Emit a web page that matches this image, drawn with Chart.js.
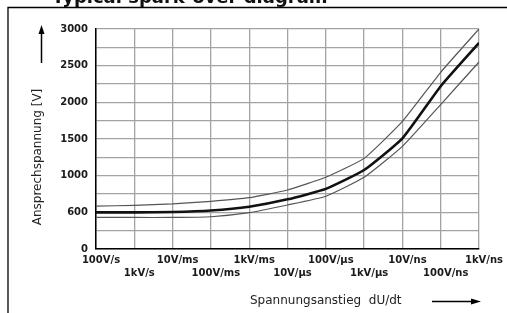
<!DOCTYPE html>
<html>
<head>
<meta charset="utf-8">
<script src="https://cdn.jsdelivr.net/npm/chart.js@4.4.1/dist/chart.umd.min.js"></script>
<style>
  html, body { margin: 0; padding: 0; background: #fff; }
  #wrap { width: 507px; height: 313px; position: relative; }
</style>
</head>
<body>
<div id="wrap"><canvas id="c" width="507" height="313"></canvas></div>
<script>
// ---- Data ----
const chartTitle = 'Typical spark-over diagram';
const yAxisTitle = 'Ansprechspannung [V]';
const xAxisTitle = 'Spannungsanstieg  dU/dt';

// x categories: decades of dU/dt (index 0..10)
const xCategories = ['100V/s', '1kV/s', '10V/ms', '100V/ms', '1kV/ms', '10V/\u00b5s',
                     '100V/\u00b5s', '1kV/\u00b5s', '10V/ns', '100V/ns', '1kV/ns'];

// y tick labels (as printed in the reference)
const yTickValues = [0, 500, 1000, 1500, 2000, 2500, 3000];
const yTickLabels = ['0', '600', '1000', '1500', '2000', '2500', '3000'];

// Spark-over voltage [V] at each category
const upperValues  = [585, 595, 615, 650, 700, 805, 978, 1236, 1740, 2410, 3000];
const typicalValues = [500, 500, 505, 525, 577, 677, 820, 1077, 1509, 2220, 2810];
const lowerValues  = [430, 430, 430, 440, 495, 600, 720, 978, 1400, 1970, 2550];

function toPoints(vals) { return vals.map((v, i) => ({ x: i, y: v })); }

const decor = {
  id: 'decor',
  beforeDraw(chart) {
    const ctx = chart.ctx;
    ctx.save();
    ctx.fillStyle = '#fff';
    ctx.fillRect(0, 0, chart.width, chart.height);
    ctx.restore();
  },
  afterDraw(chart) {
    const ctx = chart.ctx;
    ctx.save();
    // title (cut off at the top)
    ctx.fillStyle = '#111';
    ctx.font = 'bold 18px "DejaVu Sans"';
    ctx.textAlign = 'left';
    ctx.textBaseline = 'alphabetic';
    ctx.fillText(chartTitle, 52, 3);
    // frame
    ctx.strokeStyle = '#000';
    ctx.lineWidth = 1.3;
    ctx.beginPath();
    ctx.moveTo(507, 7.5);
    ctx.lineTo(8, 7.5);
    ctx.lineTo(8, 313);
    ctx.stroke();
    // y arrow
    ctx.lineWidth = 1.5;
    ctx.beginPath();
    ctx.moveTo(41.5, 63);
    ctx.lineTo(41.5, 32);
    ctx.stroke();
    ctx.fillStyle = '#000';
    ctx.beginPath();
    ctx.moveTo(41.5, 25);
    ctx.lineTo(38.5, 34);
    ctx.lineTo(44.5, 34);
    ctx.closePath();
    ctx.fill();
    // y title
    ctx.fillStyle = '#222';
    ctx.font = '12px "DejaVu Sans"';
    ctx.translate(38, 157);
    ctx.rotate(-Math.PI / 2);
    ctx.textAlign = 'center';
    ctx.textBaseline = 'middle';
    ctx.fillText(yAxisTitle, 0, 0);
    ctx.restore();

    ctx.save();
    ctx.fillStyle = '#222';
    ctx.font = '12px "DejaVu Sans"';
    ctx.textAlign = 'left';
    ctx.textBaseline = 'middle';
    ctx.fillText(xAxisTitle, 250, 301);
    // x arrow
    ctx.strokeStyle = '#000';
    ctx.lineWidth = 1.5;
    ctx.beginPath();
    ctx.moveTo(432, 301.5);
    ctx.lineTo(473, 301.5);
    ctx.stroke();
    ctx.fillStyle = '#000';
    ctx.beginPath();
    ctx.moveTo(481, 301.5);
    ctx.lineTo(471, 298.5);
    ctx.lineTo(471, 304.5);
    ctx.closePath();
    ctx.fill();
    ctx.restore();
  }
};

const tickFont = { family: '"DejaVu Sans"', size: 10, weight: 'bold', lineHeight: 1.3 };

new Chart(document.getElementById('c'), {
  type: 'line',
  data: {
    datasets: [
      { label: 'typical', data: toPoints(typicalValues), borderColor: '#111', borderWidth: 2.6,
        pointRadius: 0, tension: 0.15, order: 0 },
      { label: 'max', data: toPoints(upperValues), borderColor: '#555', borderWidth: 1.2,
        pointRadius: 0, tension: 0.15, order: 1 },
      { label: 'min', data: toPoints(lowerValues), borderColor: '#555', borderWidth: 1.2,
        pointRadius: 0, tension: 0.15, order: 2 }
    ]
  },
  options: {
    responsive: false,
    animation: false,
    events: [],
    layout: { padding: { left: 0, right: 28, top: 29, bottom: 0 } },
    plugins: { legend: { display: false }, title: { display: false }, tooltip: { enabled: false } },
    scales: {
      x: {
        type: 'linear', min: 0, max: 10,
        grid: { color: '#a3a3a3', lineWidth: 1.3, drawTicks: false },
        border: { color: '#000', width: 1.5 },
        ticks: {
          stepSize: 1, autoSkip: false, maxRotation: 0, minRotation: 0,
          padding: 5, labelOffset: 5, color: '#1a1a1a', font: tickFont,
          callback: (v) => {
            const i = Math.round(v);
            const lab = xCategories[i] || '';
            return i % 2 === 0 ? [lab, ''] : ['', lab];
          }
        },
        afterFit: (s) => { s.height = 64; s.paddingLeft = 0; s.paddingRight = 0; }
      },
      y: {
        type: 'linear', min: 0, max: 3000,
        grid: { color: '#a3a3a3', lineWidth: 1.3, drawTicks: false },
        border: { color: '#000', width: 1.5 },
        ticks: {
          stepSize: 250, autoSkip: false, padding: 8, color: '#1a1a1a', font: tickFont,
          callback: (v) => {
            const k = yTickValues.indexOf(v);
            return k >= 0 ? yTickLabels[k] : '';
          }
        },
        afterFit: (s) => { s.width = 96; s.paddingTop = 0; s.paddingBottom = 0; }
      }
    }
  },
  plugins: [decor]
});
</script>
</body>
</html>
